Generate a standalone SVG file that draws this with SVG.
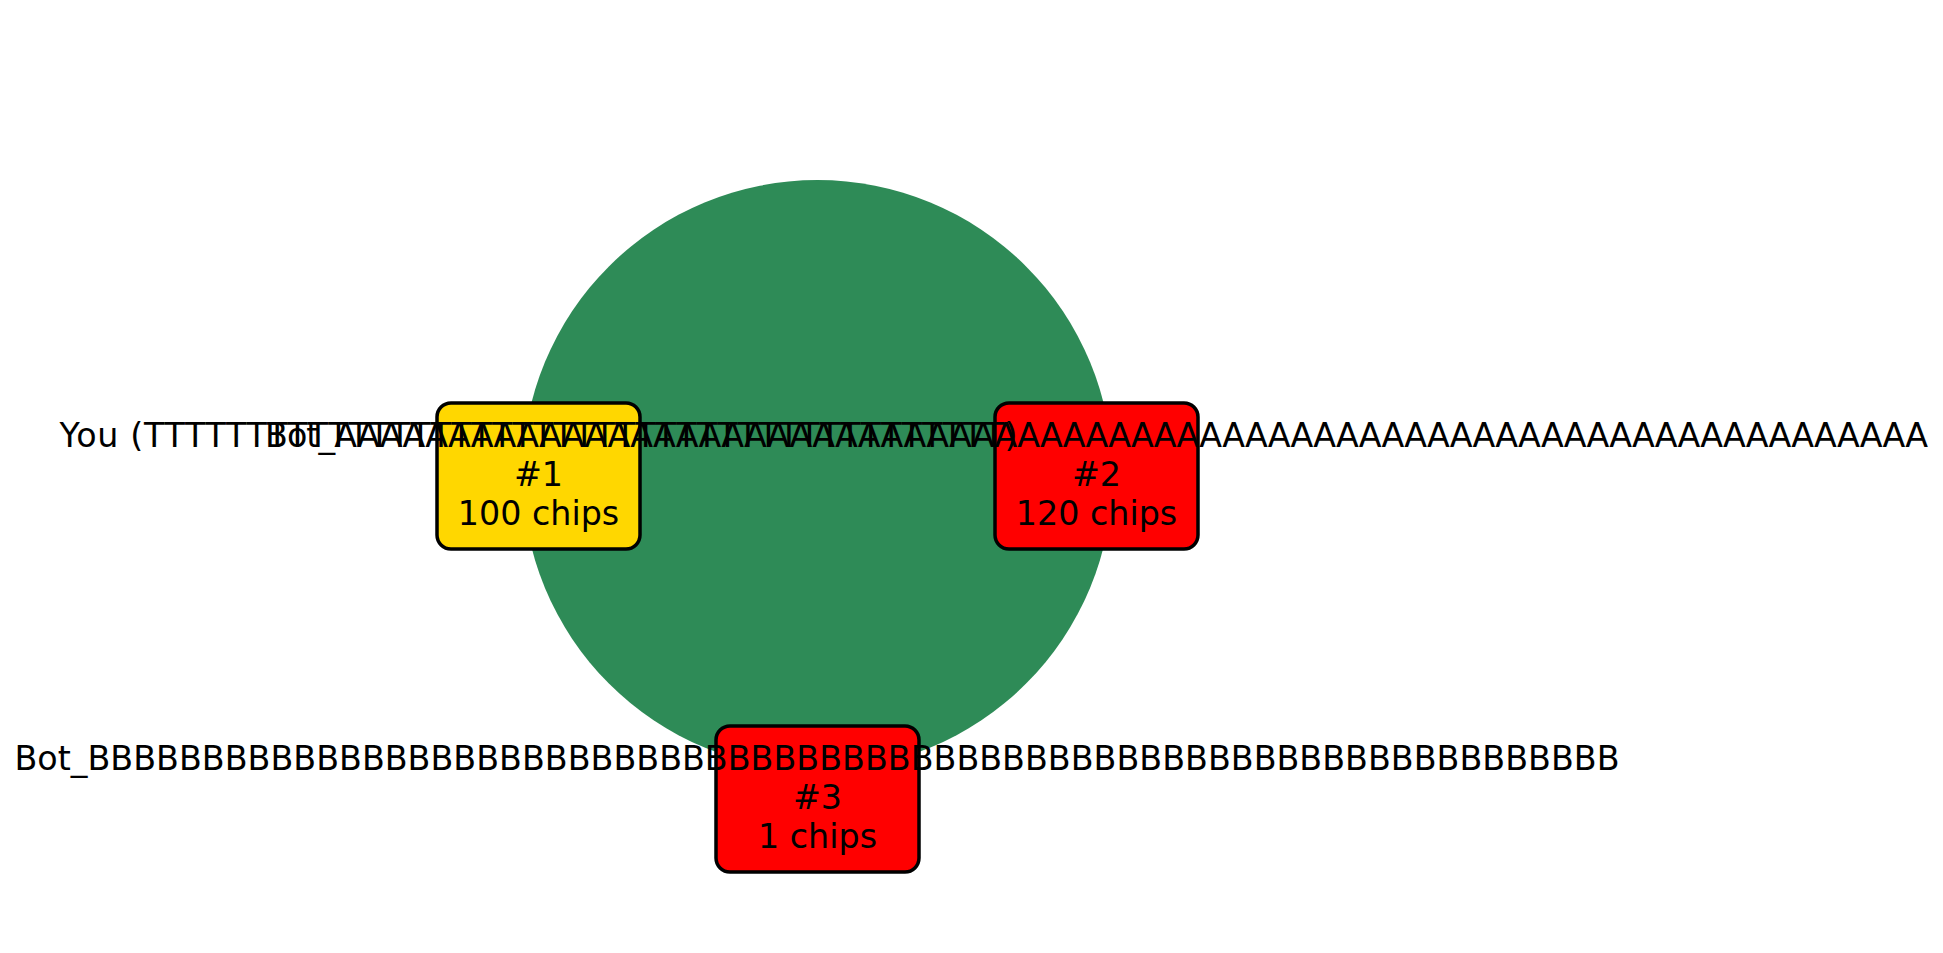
<svg xmlns="http://www.w3.org/2000/svg" width="1943" height="953" viewBox="0 0 1943 953">
<style>
  text { font-family: "DejaVu Sans", "Liberation Sans", sans-serif; font-size: 33.33px; fill: #000000; text-anchor: middle; }
  .box { stroke: #000000; stroke-width: 3.5; }
  .you { fill: #FFD700; }
  .bot { fill: #FF0000; }
</style>
<rect x="0" y="0" width="1943" height="953" fill="#FFFFFF"/>
<g id="table">
  <circle cx="817.5" cy="475" r="295" fill="#2E8B57"/>
</g>
<g id="connectors"></g>
<g id="player1">
  <rect class="box you" x="437" y="403" width="203" height="146" rx="14" ry="14"/>
  <text x="538.5" y="486">#1</text>
  <text x="538.5" y="524.5">100 chips</text>
</g>
<g id="player2">
  <rect class="box bot" x="995" y="403" width="203" height="146" rx="14" ry="14"/>
  <text x="1096.5" y="486">#2</text>
  <text x="1096.5" y="524.5">120 chips</text>
</g>
<g id="player3">
  <rect class="box bot" x="716" y="726" width="203" height="146" rx="14" ry="14"/>
  <text x="817.5" y="809">#3</text>
  <text x="817.5" y="847.5">1 chips</text>
</g>
<g id="names">
  <text id="name1" x="538.5" y="447" textLength="958" lengthAdjust="spacing">You (<tspan>TTTTT</tspan><tspan>TTTTT</tspan><tspan>TTTTT</tspan><tspan>TTTTT</tspan><tspan>TTTTT</tspan><tspan>TTTTT</tspan><tspan>TTTTT</tspan><tspan>TTTTT</tspan><tspan>TT</tspan>)</text>
  <text id="name2" x="1096.5" y="447" textLength="1663" lengthAdjust="spacing">Bot_<tspan>AAAAA</tspan><tspan>AAAAA</tspan><tspan>AAAAA</tspan><tspan>AAAAA</tspan><tspan>AAAAA</tspan><tspan>AAAAA</tspan><tspan>AAAAA</tspan><tspan>AAAAA</tspan><tspan>AAAAA</tspan><tspan>AAAAA</tspan><tspan>AAAAA</tspan><tspan>AAAAA</tspan><tspan>AAAAA</tspan><tspan>AAAAA</tspan></text>
  <text id="name3" x="817" y="770" textLength="1605" lengthAdjust="spacing">Bot_<tspan>BBBBB</tspan><tspan>BBBBB</tspan><tspan>BBBBB</tspan><tspan>BBBBB</tspan><tspan>BBBBB</tspan><tspan>BBBBB</tspan><tspan>BBBBB</tspan><tspan>BBBBB</tspan><tspan>BBBBB</tspan><tspan>BBBBB</tspan><tspan>BBBBB</tspan><tspan>BBBBB</tspan><tspan>BBBBB</tspan><tspan>BB</tspan></text>
</g>
</svg>
